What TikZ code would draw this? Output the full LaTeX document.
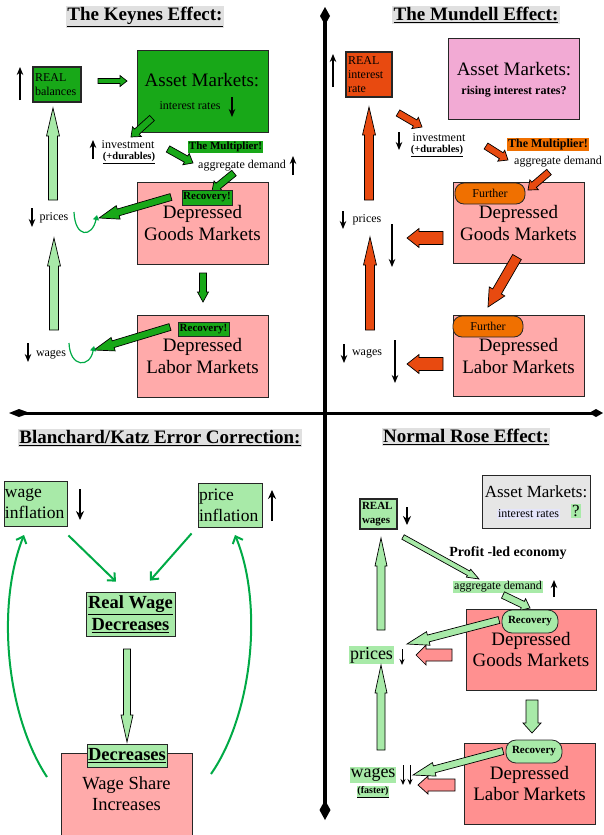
\documentclass[tikz,border=0pt]{standalone}
\usepackage{fontspec}
\setmainfont{Liberation Serif}
\usetikzlibrary{arrows.meta,calc}
\definecolor{dg}{RGB}{24,168,24}
\definecolor{lg}{RGB}{168,234,168}
\definecolor{pk}{RGB}{255,170,170}
\definecolor{sal}{RGB}{255,144,144}
\definecolor{ored}{RGB}{232,74,16}
\definecolor{org}{RGB}{240,112,0}
\definecolor{mag}{RGB}{242,170,212}
\definecolor{ttlc}{RGB}{224,224,224}
\definecolor{gbx}{RGB}{230,230,230}
\definecolor{lav}{RGB}{228,228,250}
\definecolor{cg}{RGB}{0,170,70}
\newcommand\fz[2]{\fontsize{#1}{#2}\selectfont}
% block arrow: style, start, end, shaft half width, head half width, head length
\newcommand\barr[6]{\path[draw=black,line width=0.7pt,#1] let \p1=(#2), \p2=(#3), \n1={atan2(\y2-\y1,\x2-\x1)} in
 ($(\p1)+(\n1+90:#4pt)$) -- ($(\p2)+(\n1+180:#6pt)+(\n1+90:#4pt)$) -- ($(\p2)+(\n1+180:#6pt)+(\n1+90:#5pt)$) -- (\p2) -- ($(\p2)+(\n1+180:#6pt)+(\n1-90:#5pt)$) -- ($(\p2)+(\n1+180:#6pt)+(\n1-90:#4pt)$) -- ($(\p1)+(\n1-90:#4pt)$) -- cycle;}
\tikzset{
 box/.style={draw=black!85, line width=0.8pt, inner sep=0pt, align=center},
 ttl/.style={fill=ttlc, inner xsep=1.5pt, inner ysep=1pt, font=\fz{19}{22}\bfseries},
 tarr/.style={line width=1.2pt, -{Stealth[length=8pt,width=6.5pt]}},
 tarrB/.style={line width=2pt, -{Stealth[length=9pt,width=8pt]}},
 rbox/.style={draw=black!85, line width=0.8pt, rounded corners=9pt, inner sep=0pt},
 curv/.style={cg, line width=1.2pt, -{Triangle[length=5pt,width=6pt]}},
 bigc/.style={cg, line width=2pt, -{Straight Barb[length=6pt,width=11pt,line width=2pt]}},
 every node/.style={font=\fz{12}{14}, inner sep=1pt}
}
\begin{document}
\begin{tikzpicture}[x=1pt,y=-1pt]
\useasboundingbox[fill=white] (0,0) rectangle (603,835);
% axes
\draw[line width=3.5pt] (325,20) -- (325,805);
\fill (325,7) -- (330,16) -- (325,25) -- (320,16) -- cycle;
\fill (325,820) -- (330.5,810) -- (325,800) -- (319.5,810) -- cycle;
\draw[line width=3pt] (25,413) -- (595,413);
\fill (9,413) -- (19,409) -- (30,413) -- (19,417) -- cycle;
\fill (603,413) -- (596,409) -- (589,413) -- (596,417) -- cycle;

% ===== Keynes =====
\node[ttl] (t1) at (145,17) {\underline{The Keynes Effect:}};
\draw[tarr] (20,100) -- (20,67);
\node[box, line width=1.6pt, fill=dg, minimum width=48pt, minimum height=35pt, text width=44pt, align=left, font=\fz{12}{13.5}] (rb) at (57,84.5) {REAL\\balances};
\node[box, fill=dg, minimum width=131pt, minimum height=82pt] (am1) at (202.5,91) {};
\node[font=\fz{19}{22}] (am1t) at (202,80) {Asset Markets:};
\node (ir1) at (190,106) {interest rates};
\draw[tarr] (232,97) -- (232,117);
\barr{fill=dg}{98,81}{127,81}{2.5}{5.5}{7}
\barr{fill=dg}{152,118}{131,137}{3.5}{6.5}{8}
\node[inner sep=0pt] (inv1) at (128,145) {investment};
\node[inner sep=0pt, font=\fz{10.5}{12}\bfseries] (dur1) at (129,158) {\underline{(+durables)}};
\draw[tarr] (93,159) -- (93,140);
\barr{fill=dg}{168,149}{193,163}{3.5}{6.5}{8}
\node[fill=dg, inner sep=1pt, font=\fz{11}{13}\bfseries] (mul1) at (225.5,147) {The Multiplier!};
\node (ad1) at (242,166) {aggregate demand};
\draw[tarr] (293,175) -- (293,156);
\node[box, fill=pk, minimum width=131pt, minimum height=82pt, font=\fz{19}{22}] (gm1) at (202.5,223) {Depressed\\Goods Markets};
\barr{fill=dg}{234,173}{212,191}{3.5}{6.5}{8}
\node[box, fill=dg, minimum width=50pt, minimum height=15pt, font=\fz{11}{13}\bfseries] (rec1) at (207,197.5) {Recovery!};
\barr{fill=dg}{171,197}{99,218}{3.5}{7}{20}
\draw[curv] (74,212) .. controls (75,238) and (92,238) .. (97,215);
\barr{fill=lg}{53,200}{53,108}{4.5}{6.5}{28}
\barr{fill=lg}{54,330}{54,238}{4.5}{6.5}{28}
\node (pr1) at (54,218) {prices};
\draw[tarr] (32,208) -- (32,227);
\barr{fill=dg}{203,273}{203,302}{3.5}{5.5}{10}
\node[box, fill=pk, minimum width=131pt, minimum height=82pt, font=\fz{19}{22}] (lm1) at (202.5,356) {Depressed\\Labor Markets};
\node[box, fill=dg, minimum width=51pt, minimum height=14pt, font=\fz{11}{13}\bfseries] (rec2) at (203.5,329.5) {Recovery!};
\barr{fill=dg}{170,327}{94,350}{3.5}{7}{20}
\draw[curv] (69,343) .. controls (70,368) and (90,368) .. (94,346);
\node (wg1) at (51,355) {wages};
\draw[tarr] (28,343) -- (28,362);

% ===== Mundell =====
\node[ttl] (t2) at (476,15) {\underline{The Mundell Effect:}};
\draw[tarr] (333,87) -- (333,54);
\node[box, line width=1.6pt, fill=ored, minimum width=46pt, minimum height=45pt, text width=42pt, align=left, font=\fz{12}{14}] (ri) at (369,74.5) {REAL\\interest\\rate};
\node[box, fill=mag, minimum width=131pt, minimum height=81pt] (am2) at (513.5,78.5) {};
\node[font=\fz{19}{22}] (am2t) at (514,69) {Asset Markets:};
\node[font=\fz{12}{14}\bfseries] (ris) at (514,92) {rising interest rates?};
\barr{fill=ored}{369,200}{369,107}{4.5}{6.5}{28}
\barr{fill=ored}{370,330}{370,237}{4.5}{6.5}{28}
\barr{fill=ored}{398,113}{422,127}{3.5}{6.5}{8}
\node[inner sep=0pt] (inv2) at (439,137.5) {investment};
\node[inner sep=0pt, font=\fz{10.5}{12}\bfseries] (dur2) at (437,151) {\underline{(+durables)}};
\draw[tarr] (399,132) -- (399,150);
\barr{fill=ored}{486,146}{508,160}{3.5}{6.5}{8}
\node[fill=org, inner sep=1pt, font=\fz{12}{14}\bfseries] (mul2) at (548,144.5) {The Multiplier!};
\node (ad2) at (558,162) {aggregate demand};
\node[box, fill=pk, minimum width=131pt, minimum height=81pt, font=\fz{19}{22}] (gm2) at (518.5,222.5) {Depressed\\Goods Markets};
\barr{fill=ored}{549,172}{528,190}{3.5}{6.5}{8}
\node[rbox, fill=org, minimum width=70pt, minimum height=21pt] (fu1) at (490,193.5) {Further};
\node (pr2) at (367,220) {prices};
\draw[tarr] (343,211) -- (343,229);
\draw[tarr] (392,224) -- (392,267);
\barr{fill=ored}{443,238}{407,238}{6.5}{9.5}{12}
\barr{fill=ored}{517,257}{488,307}{5}{9}{18}
\node[box, fill=pk, minimum width=131pt, minimum height=81pt, font=\fz{19}{22}] (lm2) at (518.5,355.5) {Depressed\\Labor Markets};
\node[rbox, fill=org, minimum width=70pt, minimum height=21pt] (fu2) at (488,326.5) {Further};
\node (wg2) at (367,354) {wages};
\draw[tarr] (344,344) -- (344,363);
\draw[tarr] (395,340) -- (395,383);
\barr{fill=ored}{443,364}{407,364}{6.5}{9.5}{12}

% ===== Blanchard/Katz =====
\node[ttl] (t3) at (160,438) {\underline{Blanchard/Katz Error Correction:}};
\node[box, fill=lg, minimum width=63pt, minimum height=45pt, text width=61pt, align=left, font=\fz{17.5}{21}] (wi) at (35.5,503.5) {wage\\inflation};
\draw[tarrB] (80,489) -- (80,520);
\node[box, fill=lg, minimum width=64pt, minimum height=44pt, text width=62pt, align=left, font=\fz{17.5}{21}] (pi) at (230,505) {price\\inflation};
\draw[tarrB] (272,521) -- (272,490);
\node[box, fill=lg, minimum width=89pt, minimum height=44pt, font=\fz{18.5}{22}\bfseries] (rw) at (130.5,614) {\underline{Real Wage}\\\underline{Decreases}};
\draw[bigc] ($(wi.south east)+(1,9)$) -- ($(rw.north)+(-14.5,-10)$);
\draw[bigc] ($(pi.south west)+(-6,6)$) -- ($(rw.north)+(19.5,-11)$);
\barr{fill=lg}{127,649}{127,742}{3.5}{6}{27}
\node[box, fill=pk, minimum width=131pt, minimum height=82pt, font=\fz{18.5}{21}] (ws) at (126.5,794) {Wage Share\\Increases};
\node[box, fill=lg, minimum width=80pt, minimum height=23pt, font=\fz{18.5}{22}\bfseries] (dc) at (127,755.5) {\underline{Decreases}};
\draw[bigc] (47,777) .. controls (6,715) and (-4,605) .. (24,535);
\draw[bigc] (211,774) .. controls (252,715) and (264,605) .. (235,535);

% ===== Normal Rose =====
\node[ttl] (t4) at (466,437) {\underline{Normal Rose Effect:}};
\node[box, fill=gbx, minimum width=108pt, minimum height=53pt] (am4) at (536,501.5) {};
\node[font=\fz{17}{20}] (am4t) at (536,492) {Asset Markets:};
\node[fill=lav, inner sep=1pt] (ir4) at (528.5,514) {interest rates};
\node[fill=lg, inner sep=1pt, font=\fz{17}{20}] (q4) at (576,511) {?};
\node[box, line width=1.6pt, fill=lg, minimum width=37pt, minimum height=30pt, text width=33pt, align=left, font=\fz{11}{14}\bfseries] (rwg) at (378.5,514) {REAL\\wages};
\draw[tarrB] (407,507) -- (407,525);
\barr{fill=lg}{403,537}{479,579}{2.5}{4.5}{12}
\node[font=\fz{14}{16}\bfseries] (pl) at (508,553) {Profit -led economy};
\node[fill=lg, inner sep=1pt] (ad4) at (498,587) {aggregate demand};
\draw[tarr] (554,597) -- (554,580);
\node[box, fill=sal, minimum width=130pt, minimum height=81pt, font=\fz{19}{21}] (gm4) at (531,649.5) {Depressed\\Goods Markets};
\barr{fill=lg}{503,595}{530,608}{3.5}{6.5}{8}
\barr{fill=lg}{499,620}{407,644}{3.5}{7}{22}
\node[rbox, rounded corners=10pt, fill=lg, minimum width=56pt, minimum height=23pt, font=\fz{11}{13}\bfseries] (rc4) at (530,621.5) {Recovery};
\node[fill=lg, inner sep=1pt, font=\fz{18}{20}] (pr4) at (371.5,655) {prices};
\draw[line width=1pt, -{Stealth[length=6pt,width=5pt]}] (402,649) -- (402,665);
\barr{fill=sal}{452,655}{416,655}{6}{10}{10}
\barr{fill=lg}{381,630}{381,538}{4}{6}{28}
\barr{fill=lg}{381,750}{381,665}{4}{6}{28}
\barr{fill=lg}{532,700}{532,733}{6}{9}{10}
\node[box, fill=sal, minimum width=131pt, minimum height=81pt, font=\fz{19}{21}] (lm4) at (529.5,783.5) {Depressed\\Labor Markets};
\barr{fill=lg}{503,751}{413,775}{3.5}{7}{22}
\node[rbox, rounded corners=10pt, fill=lg, minimum width=56pt, minimum height=23pt, font=\fz{11}{13}\bfseries] (rc5) at (534,751.5) {Recovery};
\node[fill=lg, inner sep=1pt, font=\fz{18}{20}] (wg4) at (373,775) {wages};
\node[fill=lg, inner sep=0.5pt, font=\fz{10}{12}\bfseries] (fa) at (373,792) {\underline{(faster)}};
\draw[line width=1pt, -{Stealth[length=6pt,width=5pt]}] (403,765) -- (403,785);
\draw[line width=1pt, -{Stealth[length=6pt,width=5pt]}] (410,765) -- (410,785);
\barr{fill=sal}{455,785}{418,785}{6}{9}{10}
\end{tikzpicture}
\end{document}
